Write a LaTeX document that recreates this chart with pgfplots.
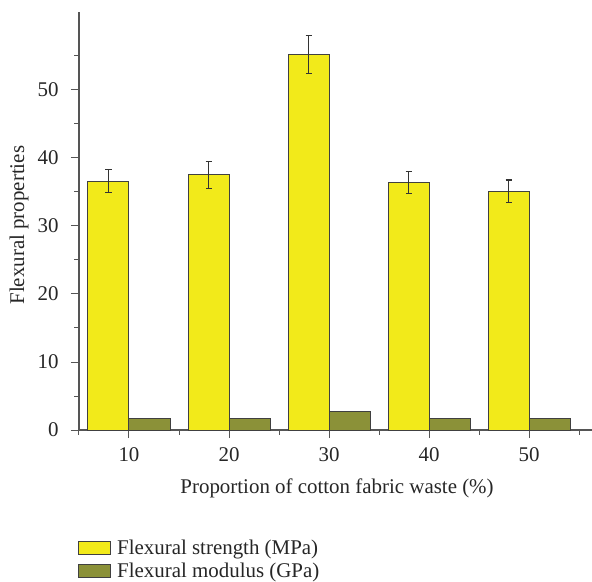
\documentclass[border=0pt]{standalone}
\usepackage{pgfplots}
\pgfplotsset{compat=1.18}
\usepackage{fontspec}
\setmainfont{Liberation Serif}
\definecolor{byellow}{RGB}{242,234,26}
\definecolor{bolive}{RGB}{139,145,56}
\definecolor{axgray}{RGB}{85,85,85}
\begin{document}
\begin{tikzpicture}
\begin{axis}[
  scale only axis,
  width=513bp, height=418bp,
  xmin=5, xmax=56.3, ymin=0, ymax=61.47,
  axis lines*=left,
  axis line style={draw=axgray, line width=1.1bp},
  tick style={draw=axgray, line width=1bp},
  tick align=outside,
  major tick length=8bp, minor tick length=4.5bp,
  xtick={10,20,30,40,50},
  minor xtick={5,15,25,35,45,55},
  ytick={0,10,20,30,40,50},
  minor ytick={5,15,25,35,45,55},
  /pgf/number format/assume math mode=true,
  tick label style={font=\fontsize{21}{23}\selectfont, text=black!85},
  xticklabel style={yshift=-6bp},
  yticklabel style={xshift=-9bp},
  label style={font=\fontsize{21}{23}\selectfont, text=black!85},
  xlabel={Proportion of cotton fabric waste (\%)},
  ylabel={Flexural properties},
  xlabel style={at={(axis description cs:0.503,-0.139)}, anchor=center},
  ylabel style={at={(axis description cs:-0.117,0.49)}, anchor=center},
  ybar, bar width=4.1,
  legend style={at={(axis description cs:-0.002,-0.258)}, anchor=north west,
    draw=none, fill=none, inner sep=0pt, row sep=3bp,
    font=\fontsize{21}{23}\selectfont, text=black!85,
    /tikz/every odd column/.style={column sep=4bp}},
  legend cell align=left,
  legend image code/.code={\draw[#1] (0bp,-6.5bp) rectangle (32bp,6.5bp);},
]
\addplot[fill=byellow, draw=black!75, line width=1bp, bar shift=-2.05,
  error bars/.cd, y dir=both, y explicit,
  error bar style={draw=black!80, line width=1.2bp},
  error mark options={rotate=90, mark size=3bp, line width=1.2bp, draw=black!80}]
  coordinates {
  (10,36.6) +- (0,1.65)
  (20,37.5) +- (0,2.0)
  (30,55.2) +- (0,2.8)
  (40,36.4) +- (0,1.65)
  (50,35.1) +- (0,1.65)
};
\addlegendentry{Flexural strength (MPa)}
\addplot[fill=bolive, draw=black!75, line width=1bp, bar shift=2.05]
  coordinates {
  (10,1.72)
  (20,1.72)
  (30,2.75)
  (40,1.72)
  (50,1.72)
};
\addlegendentry{Flexural modulus (GPa)}
\end{axis}
\pgfresetboundingbox
\useasboundingbox (-79bp,-152bp) rectangle (513bp,430bp);
\end{tikzpicture}
\end{document}
